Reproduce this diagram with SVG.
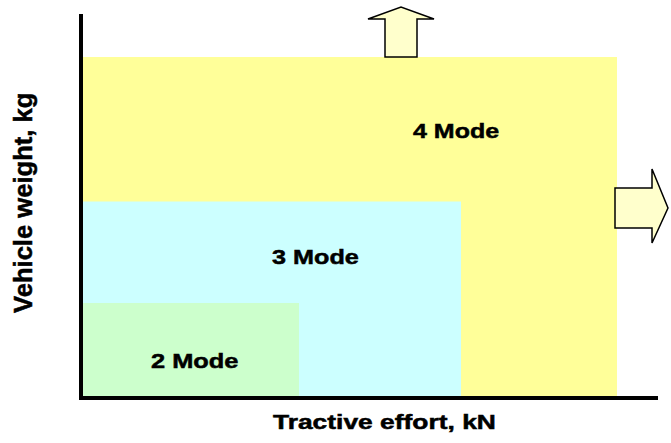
<svg xmlns="http://www.w3.org/2000/svg" width="671" height="443" viewBox="0 0 671 443">
<style>
.lbl{font-family:"Liberation Sans",Arial,sans-serif;font-weight:bold;fill:#000;stroke:#000;stroke-width:0.5}
.arrow{fill:#FFFFCC;stroke:#000;stroke-width:1.5;stroke-linejoin:miter}
.axis{stroke:#000;stroke-width:4;fill:none}
</style>
<rect width="671" height="443" fill="#fff"/>
<g id="mode4">
<rect x="83" y="57" width="534" height="339" fill="#FFFF99"/>
<text class="lbl" transform="translate(413,138) scale(1.19,1)" font-size="21">4 Mode</text>
</g>
<g id="mode3">
<rect x="83" y="201.5" width="378" height="194.5" fill="#CCFFFF"/>
<text class="lbl" transform="translate(272,263.5) scale(1.2,1)" font-size="21">3 Mode</text>
</g>
<g id="mode2">
<rect x="83" y="303" width="216" height="93" fill="#CCFFCC"/>
<text class="lbl" transform="translate(151,367.5) scale(1.21,1)" font-size="21">2 Mode</text>
</g>
<g id="arrow-up">
<polygon class="arrow" points="385,57 385,19 368,19 401,7 434,19 417,19 417,57"/>
</g>
<g id="arrow-right">
<polygon class="arrow" points="615,188 652,188 652,169 668,208 652,243 652,228 615,228"/>
</g>
<g id="axes">
<line class="axis" x1="81" y1="14" x2="81" y2="400"/>
<line class="axis" x1="79" y1="398" x2="658" y2="398"/>
</g>
<g id="x-label">
<text class="lbl" transform="translate(273,428.5) scale(1.32,1)" font-size="20">Tractive effort, kN</text>
</g>
<g id="y-label">
<text class="lbl" transform="translate(31.5,313) rotate(-90)" font-size="25.6">Vehicle weight, kg</text>
</g>
</svg>
